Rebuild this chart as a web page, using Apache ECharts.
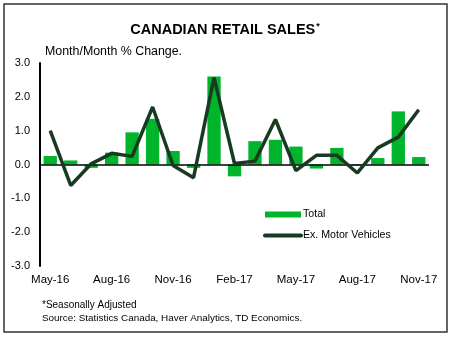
<!DOCTYPE html>
<html>
<head>
<meta charset="utf-8">
<script src="https://cdn.jsdelivr.net/npm/echarts@6/dist/echarts.min.js"></script>
<style>
html,body{margin:0;padding:0;background:#fff;}
#chart{width:450px;height:337px;}
</style>
</head>
<body>
<div id="chart"></div>
<script>
var categories = ['May-16','Jun-16','Jul-16','Aug-16','Sep-16','Oct-16','Nov-16','Dec-16','Jan-17','Feb-17',
  'Mar-17','Apr-17','May-17','Jun-17','Jul-17','Aug-17','Sep-17','Oct-17','Nov-17'];
var totalValues = [0.25, 0.12, -0.1, 0.35, 0.95, 1.35, 0.4, -0.1, 2.6, -0.35,
  0.69, 0.73, 0.53, -0.12, 0.49, -0.03, 0.19, 1.57, 0.22];
var exMotorValues = [1.0, -0.62, 0.02, 0.33, 0.24, 1.7, -0.03, -0.39, 2.57, 0.03,
  0.1, 1.33, -0.18, 0.27, 0.27, -0.25, 0.49, 0.81, 1.62];
var yTicks = [-3, -2, -1, 0, 1, 2, 3];

var FONT = 'Liberation Sans, Arial, sans-serif';
var BAR_COLOR = '#00b52c';
var LINE_COLOR = '#173a21';
var chart = echarts.init(document.getElementById('chart'), null, {renderer: 'canvas'});
var option = {
  backgroundColor: '#ffffff',
  animation: false,
  textStyle: {fontFamily: FONT},
  title: [{
    text: '{m|CANADIAN RETAIL SALES}{s|*}',
    left: 'center',
    top: 17,
    textStyle: {
      rich: {
        m: {fontFamily: FONT, fontSize: 14.5, fontWeight: 'bold', color: '#000'},
        s: {fontFamily: FONT, fontSize: 9, color: '#000', verticalAlign: 'top', padding: [0,0,7,1]}
      }
    }
  }],
  graphic: [
    {type: 'rect', shape: {x: 4, y: 4, width: 443, height: 328}, style: {fill: 'none', stroke: '#333', lineWidth: 1.5}, z: 100},
    {type: 'text', left: 45, top: 46, style: {text: 'Month/Month % Change.', font: '12.4px ' + FONT, fill: '#000'}},
    {type: 'text', left: 42, top: 300, style: {text: '*Seasonally Adjusted', font: '10px ' + FONT, fill: '#000'}},
    {type: 'text', left: 42, top: 313, style: {text: 'Source: Statistics Canada, Haver Analytics, TD Economics.', font: '9.9px ' + FONT, fill: '#000'}}
  ],
  legend: {
    orient: 'vertical',
    left: 263,
    top: 209,
    padding: 0,
    itemWidth: 36,
    itemHeight: 6,
    itemGap: 10,
    textStyle: {fontFamily: FONT, fontSize: 10.6, color: '#000', padding: [0,0,0,-3]},
    data: [
      {name: 'Total', icon: 'rect'},
      {name: 'Ex. Motor Vehicles',
        itemStyle: {color: 'transparent', borderColor: 'transparent', borderWidth: 0},
        lineStyle: {width: 4, cap: 'round', color: LINE_COLOR}}
    ]
  },
  grid: {left: 40, right: 21, top: 63, bottom: 71},
  xAxis: {
    type: 'category',
    data: categories,
    boundaryGap: true,
    axisLine: {show: false},
    axisTick: {show: false},
    axisLabel: {
      interval: 2,
      margin: 8,
      color: '#000',
      fontFamily: FONT,
      fontSize: 11.5
    },
    position: 'bottom'
  },
  yAxis: {
    type: 'value',
    min: yTicks[0],
    max: yTicks[yTicks.length - 1],
    interval: 1,
    axisLine: {show: true, onZero: false, lineStyle: {color: '#000', width: 2}},
    axisTick: {show: false},
    splitLine: {show: false},
    axisLabel: {
      color: '#000',
      fontFamily: FONT,
      fontSize: 11,
      margin: 10,
      formatter: function (v) { return v.toFixed(1); }
    }
  },
  series: [
    {
      name: 'Total',
      type: 'bar',
      data: totalValues,
      barWidth: '65%',
      itemStyle: {color: BAR_COLOR},
      markLine: {
        silent: true,
        symbol: ['none', 'none'],
        label: {show: false},
        lineStyle: {color: '#000', width: 1.5, type: 'solid'},
        data: [{yAxis: 0}],
        z: 3
      },
      z: 2
    },
    {
      name: 'Ex. Motor Vehicles',
      type: 'line',
      data: exMotorValues,
      symbol: 'none',
      lineStyle: {color: LINE_COLOR, width: 3.5},
      itemStyle: {color: LINE_COLOR},
      z: 5
    }
  ]
};
chart.setOption(option);
</script>
</body>
</html>
